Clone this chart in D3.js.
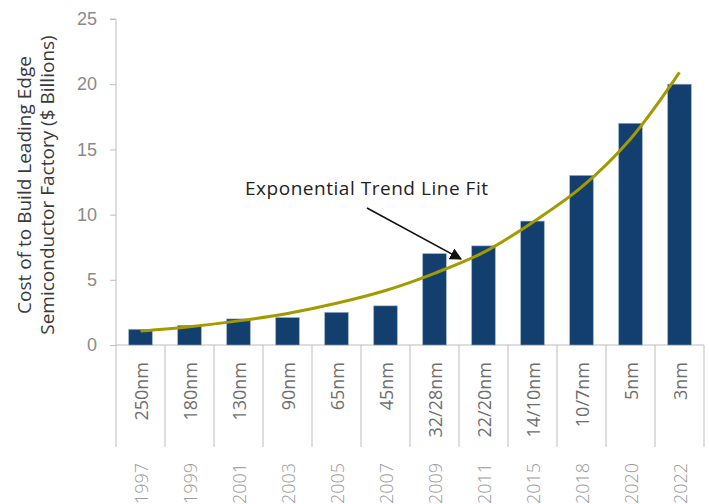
<!DOCTYPE html>
<html>
<head>
<meta charset="utf-8">
<script src="https://cdn.jsdelivr.net/npm/d3@7"></script>
<style>
  body { margin: 0; background: #fff; }
  svg { display: block; font-family: "Open Sans", sans-serif; }
</style>
</head>
<body>
<div id="chart"></div>
<script>
// data
const nodes = ["250nm", "180nm", "130nm", "90nm", "65nm", "45nm", "32/28nm", "22/20nm", "14/10nm", "10/7nm", "5nm", "3nm"];
const years = ["1997", "1999", "2001", "2003", "2005", "2007", "2009", "2011", "2015", "2018", "2020", "2022"];
const cost = [1.2, 1.5, 2.0, 2.1, 2.5, 3.0, 7.0, 7.6, 9.5, 13.0, 17.0, 20.0];
// exponential trend line, read at each bar centre
const trend = [1.07, 1.40, 1.85, 2.42, 3.2, 4.18, 5.5, 7.1, 9.4, 12.1, 15.8, 20.9];
const yTicks = [0, 5, 10, 15, 20, 25];

const width = 709, height = 504;
const margin = { top: 19, right: 5, bottom: 159, left: 116 };

const svg = d3.select("#chart").append("svg")
    .attr("width", width)
    .attr("height", height);

const x = d3.scaleBand()
    .domain(nodes)
    .range([margin.left, width - margin.right])
    .paddingInner(0.52)
    .paddingOuter(0.26);

const y = d3.scaleLinear()
    .domain([0, 25])
    .range([height - margin.bottom, margin.top]);

const step = x.step();
const y0 = y(0);

// y axis
const yAxis = svg.append("g")
    .attr("transform", `translate(${margin.left},0)`)
    .call(d3.axisLeft(y).tickValues(yTicks).tickSize(6).tickPadding(13));
yAxis.select(".domain").attr("stroke", "#bdbdbd").attr("d", `M-6,${y(25)}H0V${y0}`);
yAxis.selectAll(".tick line").attr("stroke", "#bdbdbd");
yAxis.selectAll(".tick text")
    .attr("fill", "#8a8a8a")
    .style("font-size", "18px")
    .style("font-weight", 300);

// x axis line + category dividers
svg.append("line")
    .attr("x1", margin.left).attr("x2", width - margin.right)
    .attr("y1", y0).attr("y2", y0)
    .attr("stroke", "#bdbdbd");

svg.selectAll(".divider")
    .data(d3.range(nodes.length + 1))
    .enter().append("line")
    .attr("class", "divider")
    .attr("x1", i => margin.left + i * step)
    .attr("x2", i => margin.left + i * step)
    .attr("y1", y0)
    .attr("y2", 447)
    .attr("stroke", "#bdbdbd");

// bars
svg.selectAll(".bar")
    .data(cost)
    .enter().append("rect")
    .attr("class", "bar")
    .attr("x", (d, i) => x(nodes[i]))
    .attr("width", x.bandwidth())
    .attr("y", d => y(d))
    .attr("height", d => y0 - y(d))
    .attr("fill", "#123f6d")
    .attr("stroke", "#8fa6c0")
    .attr("stroke-width", 0.6);

// trend line
const line = d3.line()
    .x((d, i) => x(nodes[i]) + x.bandwidth() / 2)
    .y(d => y(d))
    .curve(d3.curveCatmullRom);

svg.append("path")
    .datum(trend)
    .attr("fill", "none")
    .attr("stroke", "#a39a00")
    .attr("stroke-width", 3)
    .attr("d", line);

// node labels
svg.selectAll(".node")
    .data(nodes)
    .enter().append("text")
    .attr("class", "node")
    .attr("transform", d => `translate(${x(d) + x.bandwidth() / 2 + 7},362) rotate(-90)`)
    .attr("text-anchor", "end")
    .attr("fill", "#6e6e6e")
    .style("font-size", "18px")
    .text(d => d);

// year labels
svg.selectAll(".year")
    .data(years)
    .enter().append("text")
    .attr("class", "year")
    .attr("transform", (d, i) => `translate(${x(nodes[i]) + x.bandwidth() / 2 + 7},463) rotate(-90)`)
    .attr("text-anchor", "end")
    .attr("fill", "#9a9a9a")
    .style("font-size", "18px")
    .style("font-weight", 300)
    .text(d => d);

// y axis title
const title = svg.append("text")
    .attr("transform", "translate(0,185) rotate(-90)")
    .attr("text-anchor", "middle")
    .attr("fill", "#3a3a3a")
    .style("font-size", "19px");
title.append("tspan").attr("x", 0).attr("y", 31).text("Cost of to Build Leading Edge");
title.append("tspan").attr("x", 0).attr("y", 54).text("Semiconductor Factory ($ Billions)");

// annotation
svg.append("defs").append("marker")
    .attr("id", "arrow")
    .attr("viewBox", "0 0 10 10")
    .attr("refX", 9).attr("refY", 5)
    .attr("markerWidth", 8).attr("markerHeight", 8)
    .attr("orient", "auto")
    .append("path")
    .attr("d", "M0,0L10,5L0,10Z")
    .attr("fill", "#111");

svg.append("line")
    .attr("x1", 367).attr("y1", 208)
    .attr("x2", 461).attr("y2", 259)
    .attr("stroke", "#111")
    .attr("stroke-width", 1.5)
    .attr("marker-end", "url(#arrow)");

svg.append("text")
    .attr("x", 245)
    .attr("y", 195)
    .attr("fill", "#222")
    .style("font-size", "19px")
    .attr("textLength", 243)
    .text("Exponential Trend Line Fit");
</script>
</body>
</html>
